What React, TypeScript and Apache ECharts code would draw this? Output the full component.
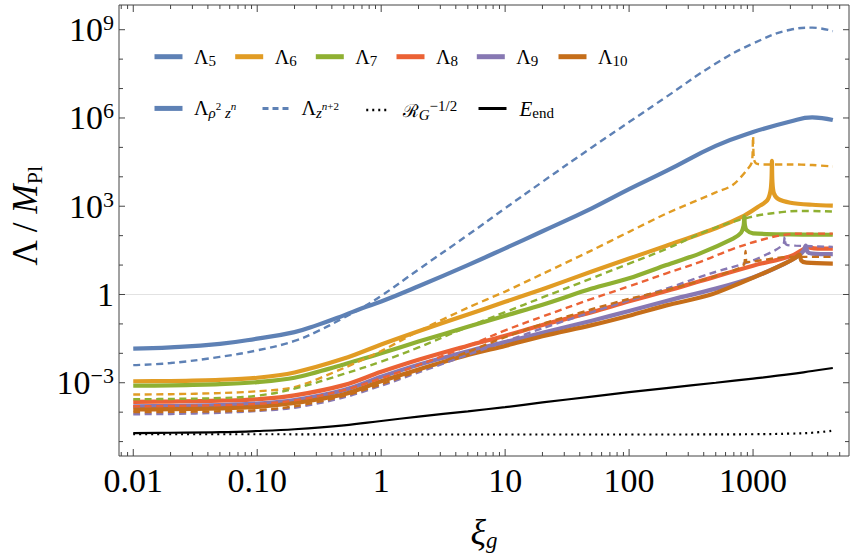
import React, { useEffect, useRef } from "react";
import * as echarts from "echarts";

const FONT = "'Liberation Serif', 'DejaVu Serif', 'Times New Roman', serif";
const AXIS_COLOR = "#444";

// axis extents in log10 units (ξ_g horizontally, Λ/M_Pl vertically)
const X_LOG_MIN = -2.115;
const X_LOG_MAX = 3.774;
const Y_LOG_MIN = -5.49;
const Y_LOG_MAX = 9.84;

// tick labels
const xTickExponents = [-2, -1, 0, 1, 2, 3];
const xTickLabels = ["0.01", "0.10", "1", "10", "100", "1000"];
const yTickExponents = [-3, 0, 3, 6, 9];
const yTickBases = ["10", "1", "10", "10", "10"];
const yTickPowers = ["\u22123", "", "3", "6", "9"];

// ---- curve data: ξ_g values and log10(Λ / M_Pl) ----
const xiCommon = [0.01, 0.02, 0.05, 0.1, 0.2, 0.5, 1, 2, 5, 10, 20, 50, 100, 200, 500, 1000, 2000, 3000, 4400];

const xi5 = [0.01, 0.02, 0.05, 0.1, 0.2, 0.3, 0.5, 0.7, 1, 2, 5, 10, 20, 50, 100, 200, 500, 1000, 2000, 3000, 4400];
const lam5Solid = [-1.84, -1.8, -1.68, -1.5, -1.28, -1.05, -0.71, -0.47, -0.24, 0.28, 1.0, 1.57, 2.15, 2.93, 3.58, 4.2, 5.05, 5.52, 5.88, 6.02, 5.93];
const lam5Dashed = [-2.4, -2.33, -2.12, -1.9, -1.58, -1.27, -0.79, -0.45, -0.05, 0.85, 2.02, 2.93, 3.83, 5.0, 5.86, 6.72, 7.85, 8.53, 9.0, 9.07, 8.95];

const xi6Solid = [0.01, 0.02, 0.05, 0.1, 0.2, 0.5, 1, 2, 5, 10, 20, 50, 100, 200, 500, 850, 1100, 1300, 1380, 1410, 1420, 1432, 1470, 1590, 2000, 3000, 4400];
const lam6Solid = [-2.95, -2.94, -2.9, -2.83, -2.65, -2.18, -1.7, -1.25, -0.68, -0.25, 0.18, 0.78, 1.22, 1.66, 2.25, 2.68, 2.98, 3.2, 3.5, 3.95, 4.54, 3.85, 3.45, 3.25, 3.12, 3.05, 3.02];
const xi6Dashed = [0.01, 0.02, 0.05, 0.1, 0.2, 0.5, 1, 2, 5, 10, 20, 50, 100, 200, 500, 685, 890, 980, 1000, 1015, 1060, 1200, 2000, 3000, 4400];
const lam6Dashed = [-3.4, -3.39, -3.35, -3.29, -3.15, -2.5, -1.92, -1.25, -0.45, 0.1, 0.7, 1.5, 2.13, 2.75, 3.47, 3.72, 4.23, 4.51, 5.38, 4.62, 4.45, 4.42, 4.42, 4.4, 4.35];

const xi7Solid = [0.01, 0.02, 0.05, 0.1, 0.2, 0.5, 1, 2, 5, 10, 20, 50, 100, 200, 370, 690, 800, 840, 850, 860, 890, 1000, 2000, 4400];
const lam7Solid = [-3.1, -3.09, -3.05, -2.98, -2.83, -2.38, -2.0, -1.6, -1.1, -0.72, -0.35, 0.2, 0.55, 1.0, 1.39, 1.9, 2.1, 2.35, 2.65, 2.35, 2.18, 2.08, 2.04, 2.03];
const xi7Dashed = [0.01, 0.02, 0.05, 0.1, 0.2, 0.5, 1, 2, 5, 10, 20, 50, 100, 200, 450, 930, 1700, 2500, 4400];
const lam7Dashed = [-3.56, -3.55, -3.52, -3.44, -3.2, -2.7, -2.28, -1.8, -1.1, -0.6, -0.1, 0.55, 1.05, 1.55, 2.2, 2.62, 2.8, 2.84, 2.82];

const xi8Solid = [0.01, 0.02, 0.05, 0.1, 0.2, 0.5, 1, 2, 5, 10, 20, 50, 100, 200, 370, 1000, 2000, 2500, 2800, 3100, 4400];
const lam8Solid = [-3.65, -3.64, -3.61, -3.56, -3.43, -3.08, -2.63, -2.22, -1.74, -1.4, -1.04, -0.6, -0.23, 0.12, 0.45, 0.98, 1.3, 1.52, 1.6, 1.57, 1.56];
const xi8Dashed = [0.01, 0.02, 0.05, 0.1, 0.2, 0.5, 1, 2, 5, 10, 20, 50, 100, 200, 370, 690, 1200, 1740, 2500, 4400];
const lam8Dashed = [-3.8, -3.79, -3.76, -3.72, -3.6, -3.25, -2.85, -2.4, -1.75, -1.22, -0.75, -0.15, 0.28, 0.72, 1.1, 1.55, 1.87, 2.02, 2.07, 2.07];

const xi9Solid = [0.01, 0.02, 0.05, 0.1, 0.2, 0.5, 1, 2, 5, 10, 20, 50, 100, 200, 500, 1000, 1740, 2300, 2550, 2660, 2750, 3000, 4400];
const lam9Solid = [-3.8, -3.79, -3.76, -3.71, -3.59, -3.25, -2.8, -2.39, -1.93, -1.62, -1.3, -0.89, -0.56, -0.22, 0.2, 0.58, 1.02, 1.3, 1.48, 1.66, 1.45, 1.39, 1.37];
const xi9Dashed = [0.01, 0.02, 0.05, 0.1, 0.2, 0.5, 1, 2, 5, 10, 20, 50, 100, 200, 450, 930, 1500, 1760, 1800, 1850, 2200, 4400];
const lam9Dashed = [-4.07, -4.06, -4.02, -3.96, -3.85, -3.5, -3.1, -2.65, -2.05, -1.6, -1.15, -0.6, -0.2, 0.2, 0.71, 1.11, 1.5, 1.72, 1.96, 1.7, 1.66, 1.62];

const xi10Solid = [0.01, 0.02, 0.05, 0.1, 0.2, 0.5, 1, 2, 5, 10, 20, 50, 100, 200, 445, 800, 1290, 1800, 2200, 2370, 2450, 2700, 4400];
const lam10Solid = [-3.91, -3.9, -3.87, -3.82, -3.69, -3.39, -2.95, -2.55, -2.06, -1.75, -1.42, -1.04, -0.72, -0.37, -0.02, 0.4, 0.77, 1.05, 1.25, 1.36, 1.15, 1.08, 1.05];
const xi10Dashed = [0.01, 0.02, 0.05, 0.1, 0.2, 0.5, 1, 2, 5, 10, 20, 50, 100, 200, 500, 800, 850, 870, 890, 1000, 2000, 4400];
const lam10Dashed = [-4.0, -3.99, -3.97, -3.93, -3.8, -3.45, -3.05, -2.6, -1.95, -1.45, -1.0, -0.5, -0.15, 0.15, 0.62, 0.92, 1.05, 1.48, 1.1, 1.12, 1.28, 1.28];

const eEnd = [-4.71, -4.7, -4.68, -4.64, -4.58, -4.45, -4.3, -4.15, -3.97, -3.83, -3.67, -3.47, -3.32, -3.18, -3.0, -2.86, -2.71, -2.6, -2.5];

const xiRG = [0.01, 0.1, 1, 10, 100, 1000, 2000, 3000, 4400];
const rgInvSqrt = [-4.75, -4.75, -4.76, -4.76, -4.76, -4.75, -4.73, -4.7, -4.63];

const COLORS = ["#5E81B5", "#E19C24", "#8FB032", "#EB6235", "#8778B3", "#C56E1A"];
const curveNames = ["L5", "L6", "L7", "L8", "L9", "L10"];
const curveSubs = ["5", "6", "7", "8", "9", "10"];
const solidX = [xi5, xi6Solid, xi7Solid, xi8Solid, xi9Solid, xi10Solid];
const solidY = [lam5Solid, lam6Solid, lam7Solid, lam8Solid, lam9Solid, lam10Solid];
const dashedX = [xi5, xi6Dashed, xi7Dashed, xi8Dashed, xi9Dashed, xi10Dashed];
const dashedY = [lam5Dashed, lam6Dashed, lam7Dashed, lam8Dashed, lam9Dashed, lam10Dashed];
// curves with a sharp spike get less smoothing
const solidSmooth = [0.45, 0.3, 0.3, 0.4, 0.3, 0.3];
const dashedSmooth = [0.45, 0.3, 0.4, 0.4, 0.3, 0.3];

const pts = (xs: number[], ys: number[]) => xs.map((x, i) => [Math.log10(x), ys[i]]);

const DASH = [7, 4.5];
const DOT = [2, 4];

function buildOption(): any {
  const series: any[] = [];

  // light reference line at Λ = 1
  series.push({
    type: "line",
    name: "unit",
    data: [[X_LOG_MIN, 0], [X_LOG_MAX, 0]],
    showSymbol: false,
    symbol: "none",
    silent: true,
    lineStyle: { color: "#e2e2e2", width: 1 },
    z: 1,
  });

  curveNames.forEach((n, i) => {
    series.push({
      type: "line",
      name: n,
      data: pts(solidX[i], solidY[i]),
      showSymbol: false,
      symbol: "none",
      silent: true,
      smooth: solidSmooth[i],
      itemStyle: { color: COLORS[i] },
      lineStyle: { color: COLORS[i], width: 4.2, cap: "butt", join: "round" },
      z: 3,
    });
  });
  curveNames.forEach((n, i) => {
    series.push({
      type: "line",
      name: n + "d",
      data: pts(dashedX[i], dashedY[i]),
      showSymbol: false,
      symbol: "none",
      silent: true,
      smooth: dashedSmooth[i],
      itemStyle: { color: COLORS[i] },
      lineStyle: { color: COLORS[i], width: 2.4, type: DASH },
      z: 4,
    });
  });
  series.push({
    type: "line",
    name: "RG",
    data: pts(xiRG, rgInvSqrt),
    showSymbol: false,
    symbol: "none",
    silent: true,
    smooth: 0.4,
    itemStyle: { color: "#000" },
    lineStyle: { color: "#000", width: 2.2, type: DOT },
    z: 4,
  });
  series.push({
    type: "line",
    name: "Eend",
    data: pts(xiCommon, eEnd),
    showSymbol: false,
    symbol: "none",
    silent: true,
    smooth: 0.4,
    itemStyle: { color: "#000" },
    lineStyle: { color: "#000", width: 2.2 },
    z: 5,
  });
  // legend-only entries describing the line styles
  series.push({ type: "line", name: "rho", data: [], symbol: "none", itemStyle: { color: COLORS[0] }, lineStyle: { color: COLORS[0], width: 4 } });
  series.push({ type: "line", name: "zn", data: [], symbol: "none", itemStyle: { color: COLORS[0] }, lineStyle: { color: COLORS[0], width: 2, type: DASH } });

  // frame ticks (all four sides, inward)
  const xTickData: number[][] = [];
  for (let d = -3; d <= 3; d++) {
    for (let k = 1; k <= 9; k++) {
      const v = d + Math.log10(k);
      if (v > X_LOG_MIN + 0.002 && v < X_LOG_MAX - 0.002) xTickData.push([v, Y_LOG_MIN, k === 1 ? 1 : 0]);
    }
  }
  const yTickData: number[][] = [];
  for (let e = -5; e <= 9; e++) yTickData.push([X_LOG_MIN, e, e % 3 === 0 ? 1 : 0]);

  series.push({
    type: "custom",
    name: "xticks",
    silent: true,
    clip: false,
    z: 10,
    data: xTickData,
    renderItem: (params: any, api: any) => {
      const cs = params.coordSys;
      const px = api.coord([api.value(0), Y_LOG_MIN])[0];
      const len = api.value(2) ? 7 : 4;
      const st = { stroke: AXIS_COLOR, lineWidth: 1 };
      return {
        type: "group",
        children: [
          { type: "line", shape: { x1: px, y1: cs.y + cs.height, x2: px, y2: cs.y + cs.height - len }, style: st },
          { type: "line", shape: { x1: px, y1: cs.y, x2: px, y2: cs.y + len }, style: st },
        ],
      };
    },
  });
  series.push({
    type: "custom",
    name: "yticks",
    silent: true,
    clip: false,
    z: 10,
    data: yTickData,
    renderItem: (params: any, api: any) => {
      const cs = params.coordSys;
      const py = api.coord([X_LOG_MIN, api.value(1)])[1];
      const len = api.value(2) ? 6 : 4;
      const st = { stroke: AXIS_COLOR, lineWidth: 1 };
      return {
        type: "group",
        children: [
          { type: "line", shape: { x1: cs.x, y1: py, x2: cs.x + len, y2: py }, style: st },
          { type: "line", shape: { x1: cs.x + cs.width, y1: py, x2: cs.x + cs.width - len, y2: py }, style: st },
        ],
      };
    },
  });

  const LR: any = {
    s6: { width: 6.5, fontSize: 19, fontFamily: FONT },
    s8: { width: 8, fontSize: 19, fontFamily: FONT },
    s11: { width: 11.5, fontSize: 19, fontFamily: FONT },
    g: { fontFamily: FONT, fontSize: 20, lineHeight: 24, color: "#000" },
    gi: { fontFamily: FONT, fontSize: 21, lineHeight: 24, color: "#000", fontStyle: "italic" },
    sub: { fontFamily: FONT, fontSize: 15, lineHeight: 16, verticalAlign: "bottom", color: "#000" },
    subi: { fontFamily: FONT, fontSize: 15, lineHeight: 16, verticalAlign: "bottom", color: "#000", fontStyle: "italic" },
    ss: { fontFamily: FONT, fontSize: 11, lineHeight: 11, verticalAlign: "bottom", padding: [0, 0, 9, 0], color: "#000" },
    ssi: { fontFamily: FONT, fontSize: 11, lineHeight: 11, verticalAlign: "bottom", padding: [0, 0, 9, 0], color: "#000", fontStyle: "italic" },
    sup: { fontFamily: FONT, fontSize: 15, lineHeight: 14, verticalAlign: "top", color: "#000" },
    scr: { fontFamily: "'DejaVu Serif', serif", fontSize: 18, lineHeight: 24, color: "#000" },
  };

  const row1Left = [152, 232.7, 313.3, 394, 474.3, 556];
  const legendSpecs: any[] = curveNames.map((n, i) => ({
    name: n,
    left: row1Left[i],
    top: 46.3,
    w: 28,
    line: { color: COLORS[i], width: 5, type: "solid" },
    text: "{s6| }{g|\u039b}{sub|" + curveSubs[i] + "}",
  }));
  legendSpecs.push(
    { name: "rho", left: 152, top: 98, w: 28, line: { color: COLORS[0], width: 5, type: "solid" }, text: "{s6| }{g|\u039b}{subi|\u03c1}{ss|2}{subi| z}{ssi|n}" },
    { name: "zn", left: 261, top: 98, w: 26, line: { color: COLORS[0], width: 3, type: [6, 4] }, text: "{s8| }{g|\u039b}{subi|z}{ssi|n}{ss|+2}" },
    { name: "RG", left: 365, top: 98, w: 20, line: { color: "#000", width: 2.5, type: [2, 4] }, text: "{s11| }{scr|\u211b}{subi|G}{sup|\u22121/2}" },
    { name: "Eend", left: 477, top: 98, w: 28, line: { color: "#000", width: 3, type: "solid" }, text: "{s8| }{gi|E}{sub|end}" }
  );

  const legend = legendSpecs.map((s) => ({
    data: [s.name],
    left: s.left,
    top: s.top,
    orient: "horizontal",
    padding: 0,
    itemGap: 0,
    itemWidth: s.w,
    itemHeight: 26,
    selectedMode: false,
    formatter: () => s.text,
    textStyle: { fontFamily: FONT, fontSize: 19, color: "#000", rich: LR },
    lineStyle: s.line,
    itemStyle: { opacity: 0 },
  }));

  const isInt = (v: number) => Math.abs(v - Math.round(v)) < 1e-6;

  return {
    animation: false,
    backgroundColor: "#ffffff",
    textStyle: { fontFamily: FONT },
    grid: { left: 119, right: 6, top: 5, bottom: 101, show: true, borderColor: AXIS_COLOR, borderWidth: 1, backgroundColor: "transparent" },
    xAxis: {
      type: "value",
      min: X_LOG_MIN,
      max: X_LOG_MAX,
      axisLine: { show: false },
      axisTick: { show: false },
      splitLine: { show: false },
      axisLabel: {
        interval: 0,
        margin: 7,
        fontFamily: FONT,
        fontSize: 34,
        color: "#000",
        formatter: (v: number) => {
          if (!isInt(v)) return "";
          const idx = xTickExponents.indexOf(Math.round(v));
          return idx >= 0 ? xTickLabels[idx] : "";
        },
      },
    },
    yAxis: {
      type: "value",
      min: Y_LOG_MIN,
      max: Y_LOG_MAX,
      axisLine: { show: false },
      axisTick: { show: false },
      splitLine: { show: false },
      axisLabel: {
        interval: 0,
        margin: 5,
        color: "#000",
        formatter: (v: number) => {
          if (!isInt(v)) return "";
          const idx = yTickExponents.indexOf(Math.round(v));
          if (idx < 0) return "";
          return "{b|" + yTickBases[idx] + "}" + (yTickPowers[idx] ? "{e|" + yTickPowers[idx] + "}" : "");
        },
        rich: {
          b: { fontFamily: FONT, fontSize: 34, lineHeight: 36, color: "#000" },
          e: { fontFamily: FONT, fontSize: 22, lineHeight: 22, verticalAlign: "top", color: "#000" },
        },
      },
    },
    legend,
    graphic: [
      {
        type: "text",
        x: 25,
        y: 216,
        rotation: Math.PI / 2,
        style: {
          text: "{a|\u039b / }{m|M}{s|Pl}",
          align: "center",
          verticalAlign: "middle",
          rich: {
            a: { fontFamily: FONT, fontSize: 35, lineHeight: 40, fill: "#000", color: "#000" },
            m: { fontFamily: FONT, fontSize: 35, lineHeight: 40, fontStyle: "italic", fill: "#000", color: "#000" },
            s: { fontFamily: FONT, fontSize: 22, lineHeight: 26, verticalAlign: "bottom", fill: "#000", color: "#000" },
          },
        },
      },
      {
        type: "text",
        x: 484,
        y: 532,
        style: {
          text: "{x|\u03be}{g|g}",
          align: "center",
          verticalAlign: "middle",
          rich: {
            x: { fontFamily: FONT, fontSize: 36, lineHeight: 40, fontStyle: "italic", fill: "#000", color: "#000" },
            g: { fontFamily: FONT, fontSize: 23, lineHeight: 26, verticalAlign: "bottom", fontStyle: "italic", fill: "#000", color: "#000" },
          },
        },
      },
    ],
    series,
  };
}

export default function App() {
  const ref = useRef<HTMLDivElement>(null);
  useEffect(() => {
    if (!ref.current) return;
    const chart = echarts.init(ref.current, undefined, { renderer: "svg" });
    chart.setOption(buildOption());
    return () => chart.dispose();
  }, []);
  return <div ref={ref} style={{ position: "fixed", left: 0, top: 0, width: 855, height: 557, background: "#fff" }} />;
}
